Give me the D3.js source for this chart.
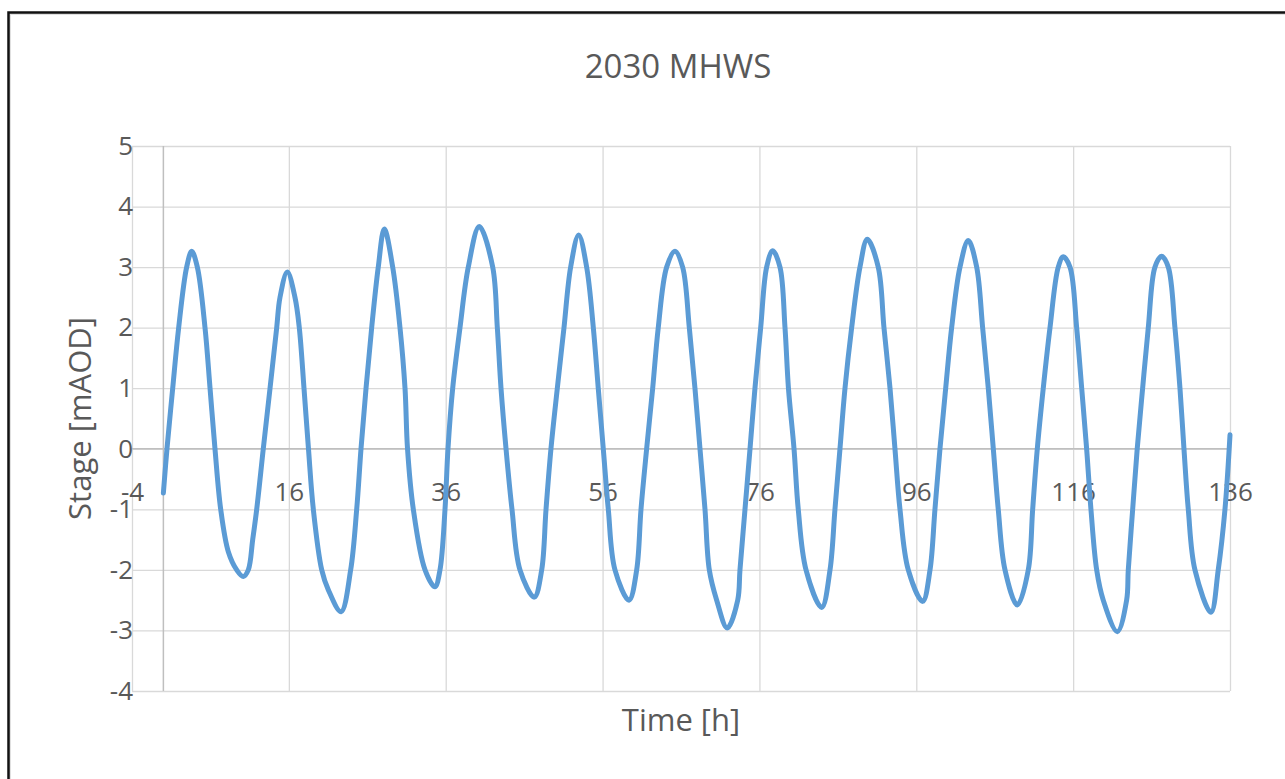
<!DOCTYPE html>
<html>
<head>
<meta charset="utf-8">
<script src="https://cdn.jsdelivr.net/npm/d3@7"></script>
<style>
body {
    margin: 0;
    background: #ffffff;
}
text {
    font-family: "Open Sans", sans-serif;
    fill: #595959;
}
.grid line {
    stroke: #d9d9d9;
    stroke-width: 1.3;
}
.zeroAxis {
    stroke: #bfbfbf;
    stroke-width: 1.5;
}
.stageLine {
    fill: none;
    stroke: #5b9bd5;
    stroke-width: 5;
    stroke-linejoin: round;
    stroke-linecap: round;
}
</style>
</head>
<body>
<div id="plot"></div>
<script>

// chart values
var chartTitle = "2030 MHWS";
var xTitle = "Time [h]";
var yTitle = "Stage [mAOD]";

var xTicks = [-4, 16, 36, 56, 76, 96, 116, 136];
var yTicks = [-4, -3, -2, -1, 0, 1, 2, 3, 4, 5];

// time in hours
var hours = [
  0, 0.46, 1.19, 1.95, 2.97, 3.61, 4.33, 5.31, 5.95, 6.58, 7.31, 8.28, 9.35,
  10.19, 10.83, 11.39, 11.90, 12.74, 13.60, 14.45, 14.87, 15.80, 16.78, 17.33, 17.93, 18.50, 19.12, 20.19, 21.03,
  22.65, 23.88, 24.65, 25.20, 25.84, 26.56, 27.40, 28.17, 29.24, 30.17, 30.81, 31.13, 31.87, 33.36,
  34.63, 35.27, 35.91, 36.29, 36.89, 37.82, 38.88, 40.28, 41.99, 42.58, 43.05, 43.69, 44.45, 45.47,
  47.29, 48.24, 48.79, 49.42, 50.23, 51.08, 51.93, 52.95, 53.97, 54.82, 55.45, 56.09, 56.73, 57.58,
  59.37, 60.35, 60.90, 61.62, 62.39, 63.10, 64.17, 65.23, 66.21, 67.06, 67.78, 68.42, 69.06, 69.61, 70.55,
  71.90, 73.23, 73.52, 74.16, 74.80, 75.43, 76.16, 76.92, 77.69, 78.62, 79.26, 79.70, 80.41, 80.95, 81.94,
  83.94, 85.00, 85.63, 86.27, 86.91, 87.76, 88.82, 89.75, 91.15, 91.88, 92.65, 93.28, 93.92, 94.98,
  96.81, 97.75, 98.38, 99.02, 99.75, 100.51, 101.57, 102.63, 103.70, 104.46, 105.18, 105.82, 106.45, 107.31,
  108.88, 110.28, 110.84, 111.43, 112.19, 113.05, 114.10, 114.74, 115.60, 116.45, 117.09, 117.72, 118.27, 119.00, 119.84,
  121.63, 122.82, 123.03, 123.59, 124.17, 124.86, 125.58, 126.43, 127.28, 128.13, 128.98, 129.62, 130.13, 130.68, 131.53,
  133.57, 134.50, 135.36, 136.0
];

// water level in mAOD
var stage = [
  -0.73, 0, 1, 2, 3, 3.26, 3, 2, 1, 0, -1, -1.7, -2,
  -2.11, -2, -1.5, -1, 0, 1, 2, 2.5, 2.92, 2.5, 2, 1, 0, -1, -2, -2.33,
  -2.69, -2, -1, 0, 1, 2, 3, 3.63, 3, 2, 1, 0, -1, -2,
  -2.28, -2, -1, 0, 1, 2, 3, 3.67, 3, 2, 1, 0, -1, -2,
  -2.45, -2, -1, 0, 1, 2, 3, 3.53, 3, 2, 1, 0, -1, -2,
  -2.5, -2, -1, 0, 1, 2, 3, 3.26, 3, 2, 1, 0, -1, -2, -2.5,
  -2.96, -2.5, -2, -1, 0, 1, 2, 3, 3.27, 3, 2, 1, 0, -1, -2,
  -2.62, -2, -1, 0, 1, 2, 3, 3.46, 3, 2, 1, 0, -1, -2,
  -2.52, -2, -1, 0, 1, 2, 3, 3.44, 3, 2, 1, 0, -1, -2,
  -2.58, -2, -1, 0, 1, 2, 3, 3.17, 3, 2, 1, 0, -1, -2, -2.5,
  -3.02, -2.5, -2, -1, 0, 1, 2, 3, 3.18, 3, 2, 1, 0, -1, -2,
  -2.7, -2, -1, 0.23
];

var W = 1285, H = 779;
var plot = {left: 132, right: 1230, top: 146, bottom: 691};

var svg = d3.select('#plot')
  .append('svg')
  .attr('width', W)
  .attr('height', H);

var x = d3.scaleLinear()
  .domain([-4, 136])
  .range([plot.left, plot.right]);

var y = d3.scaleLinear()
  .domain([-4, 5])
  .range([plot.bottom, plot.top]);

// plain hyphen minus like the original, not the unicode minus
var plainFormat = function(d){ return String(d); };

// outer frame (top and left edges only show in the picture)
svg.append('path')
  .attr('d', 'M10,' + (H + 2) + ' L10,14 L' + (W + 2) + ',14')
  .attr('fill', 'none')
  .attr('stroke', '#e0e0e0')
  .attr('stroke-width', 2);
svg.append('path')
  .attr('d', 'M8.5,' + (H + 2) + ' L8.5,12.5 L' + (W + 2) + ',12.5')
  .attr('fill', 'none')
  .attr('stroke', '#111')
  .attr('stroke-width', 2.5);

// gridlines
svg.append('g')
  .attr('class', 'grid')
  .attr('transform', 'translate(' + plot.left + ',0)')
  .call(d3.axisLeft(y).tickValues(yTicks).tickSize(-(plot.right - plot.left)).tickFormat(''))
  .call(function(g){ g.select('.domain').remove(); });

svg.append('g')
  .attr('class', 'grid')
  .attr('transform', 'translate(0,' + plot.bottom + ')')
  .call(d3.axisBottom(x).tickValues(xTicks).tickSize(-(plot.bottom - plot.top)).tickFormat(''))
  .call(function(g){ g.select('.domain').remove(); });

// axis lines crossing at zero
svg.append('line')
  .attr('class', 'zeroAxis')
  .attr('x1', plot.left)
  .attr('x2', plot.right)
  .attr('y1', y(0))
  .attr('y2', y(0));

svg.append('line')
  .attr('class', 'zeroAxis')
  .attr('x1', x(0))
  .attr('x2', x(0))
  .attr('y1', plot.top)
  .attr('y2', plot.bottom);

// tick labels
var yAxis = svg.append('g')
  .attr('transform', 'translate(' + (plot.left + 1) + ',0)')
  .call(d3.axisLeft(y).tickValues(yTicks).tickFormat(plainFormat).tickSize(0).tickPadding(0));
yAxis.select('.domain').remove();
yAxis.selectAll('text')
  .attr('font-family', '"Open Sans", sans-serif')
  .style('font-size', '26px')
  .style('fill', '#595959');

var xAxis = svg.append('g')
  .attr('transform', 'translate(0,' + y(0) + ')')
  .call(d3.axisBottom(x).tickValues(xTicks).tickFormat(plainFormat).tickSize(0).tickPadding(34));
xAxis.select('.domain').remove();
xAxis.selectAll('text')
  .attr('font-family', '"Open Sans", sans-serif')
  .style('font-size', '26px')
  .style('fill', '#595959');

// the series
var data = hours.map(function(h, i){ return {t: h, v: stage[i]}; });

var line = d3.line()
  .x(function(d){ return x(d.t); })
  .y(function(d){ return y(d.v); })
  .curve(d3.curveCatmullRom.alpha(0.5));

svg.append('path')
  .datum(data)
  .attr('class', 'stageLine')
  .attr('d', line);

// titles
svg.append('text')
  .attr('x', (plot.left + plot.right) / 2 - 3)
  .attr('y', 78)
  .style('text-anchor', 'middle')
  .style('font-size', '33px')
  .text(chartTitle);

svg.append('text')
  .attr('x', (plot.left + plot.right) / 2)
  .attr('y', 731)
  .style('text-anchor', 'middle')
  .style('font-size', '31px')
  .text(xTitle);

svg.append('text')
  .attr('transform', 'translate(91,' + ((plot.top + plot.bottom) / 2) + ') rotate(-90)')
  .style('text-anchor', 'middle')
  .style('font-size', '31px')
  .text(yTitle);

</script>
</body>
</html>
